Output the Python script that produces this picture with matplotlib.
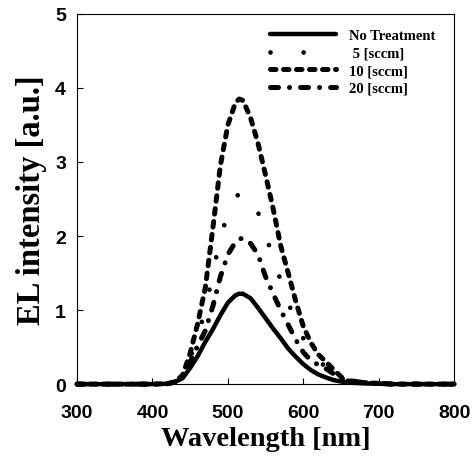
import numpy as np
import matplotlib
matplotlib.use('Agg')
import matplotlib.pyplot as plt

# longitud de onda [nm]
wl = [300, 320, 340, 360, 380, 400, 420, 430, 440, 450, 460, 470, 480, 490,
      500, 510, 515, 520, 530, 540, 550, 560, 570, 580, 590, 600, 610, 620,
      630, 640, 650, 660, 680, 700, 720, 740, 760, 780, 800]

no_treatment = [0, 0, 0, 0, 0, 0, 0.005, 0.03, 0.08, 0.22, 0.38, 0.57, 0.74, 0.93,
                1.10, 1.20, 1.22, 1.22, 1.16, 1.03, 0.89, 0.75, 0.62, 0.48, 0.37, 0.27, 0.19, 0.13,
                0.09, 0.055, 0.035, 0.02, 0.01, 0.005, 0, 0, 0, 0, 0]

sccm_5 = [0, 0, 0, 0, 0, 0, 0.005, 0.03, 0.10, 0.35, 0.65, 1.00, 1.50, 1.98,
          2.30, 2.52, 2.57, 2.58, 2.53, 2.32, 2.02, 1.70, 1.40, 1.10, 0.85, 0.62, 0.45, 0.32,
          0.23, 0.15, 0.09, 0.05, 0.02, 0.01, 0, 0, 0, 0, 0]

sccm_10 = [0, 0, 0, 0, 0, 0, 0.005, 0.03, 0.12, 0.42, 0.82, 1.30, 2.10, 2.95,
           3.50, 3.80, 3.85, 3.83, 3.60, 3.25, 2.82, 2.37, 1.87, 1.50, 1.12, 0.78, 0.56, 0.40,
           0.30, 0.20, 0.10, 0.04, 0.02, 0.01, 0, 0, 0, 0, 0]

sccm_20 = [0, 0, 0, 0, 0, 0, 0.005, 0.03, 0.10, 0.30, 0.52, 0.72, 1.05, 1.45,
           1.75, 1.92, 1.96, 1.97, 1.90, 1.75, 1.45, 1.22, 1.00, 0.80, 0.60, 0.43, 0.32, 0.26,
           0.21, 0.14, 0.08, 0.05, 0.02, 0.01, 0, 0, 0, 0, 0]

etiquetas = ['No Treatment', ' 5 [sccm]', '10 [sccm]', '20 [sccm]']

fig = plt.figure(figsize=(4.73, 4.64), dpi=100)
ax = fig.add_axes([0.163, 0.170, 0.797, 0.798])

ax.plot(wl, sccm_10, color='black', lw=3.6, linestyle=(0, (1.1, 1.5)),
        dash_capstyle='round', label=etiquetas[2], clip_on=False)
ax.plot(wl, sccm_5, color='black', lw=3.4, linestyle=(0, (0.01, 7)),
        dash_capstyle='round', label=etiquetas[1], clip_on=False)
ax.plot(wl, sccm_20, color='black', lw=3.6, linestyle=(0, (1.6, 2.2, 0.01, 2.2)),
        dash_capstyle='round', label=etiquetas[3], clip_on=False)
ax.plot(wl, no_treatment, color='black', lw=3.2, solid_capstyle='round',
        label=etiquetas[0], clip_on=False)

ax.set_xlim(300, 800)
ax.set_ylim(0, 5)
ax.set_xticks([300, 400, 500, 600, 700, 800])
ax.set_yticks([0, 1, 2, 3, 4, 5])
ax.tick_params(direction='in', length=4, width=0.8)
ax.tick_params(axis='x', pad=14)
ax.tick_params(axis='y', pad=8)
for lab in ax.get_xticklabels() + ax.get_yticklabels():
    lab.set_fontfamily('Liberation Sans')
    lab.set_fontweight('bold')
    lab.set_fontsize(14)
for s in ax.spines.values():
    s.set_linewidth(0.8)

ax.set_xlabel('Wavelength [nm]', fontfamily='Liberation Serif', fontweight='bold',
              fontsize=20.5, labelpad=4)
ax.set_ylabel('EL intensity [a.u.]', fontfamily='Liberation Serif', fontweight='bold',
              fontsize=23.5, labelpad=6)

handles, labels = ax.get_legend_handles_labels()
orden = [labels.index(e) for e in etiquetas]
ax.legend([handles[i] for i in orden], [labels[i] for i in orden],
          loc='upper left', bbox_to_anchor=(0.478, 0.995), frameon=False,
          handlelength=4.5, handletextpad=0.9, labelspacing=0.3,
          prop={'family': 'Liberation Serif', 'weight': 'bold', 'size': 10.5})

fig.savefig('out.png', dpi=100)
